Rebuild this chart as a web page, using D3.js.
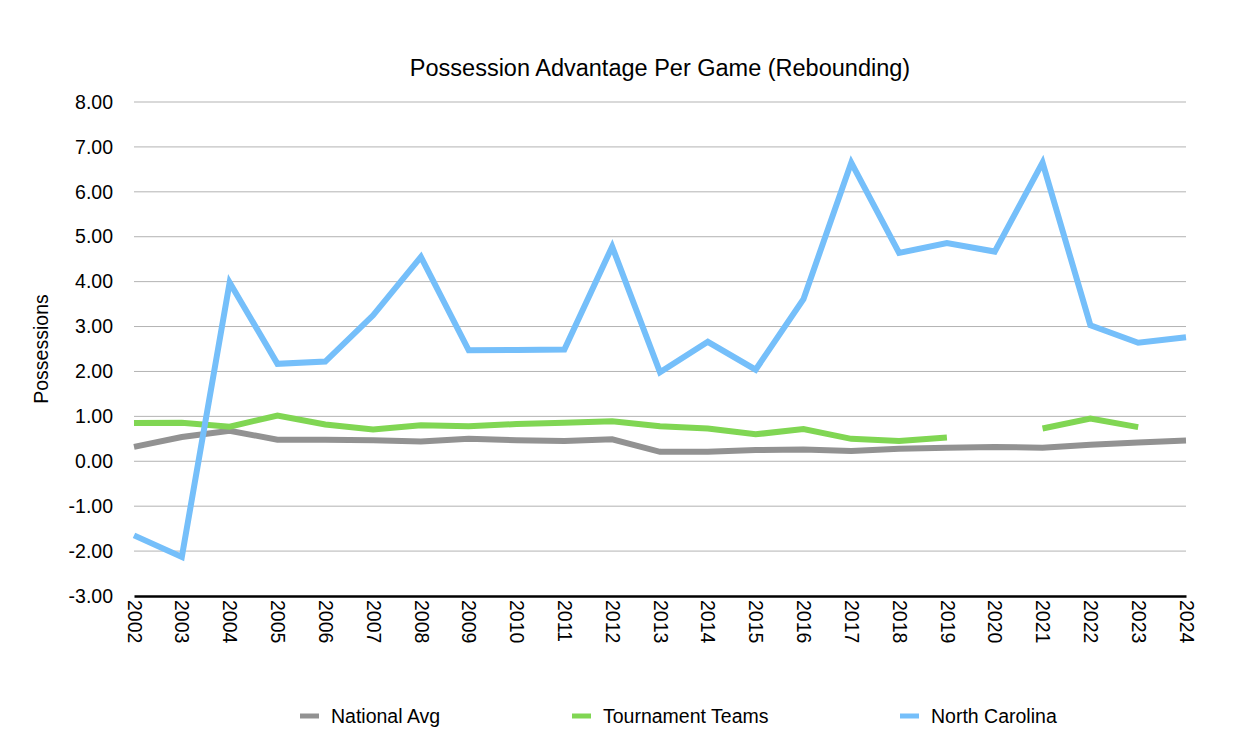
<!DOCTYPE html>
<html>
<head>
<meta charset="utf-8">
<script src="https://cdn.jsdelivr.net/npm/d3@7"></script>
<style>
  body { margin: 0; background: #fff; }
  svg { font-family: "Liberation Sans", Arial, Helvetica, sans-serif; }
</style>
</head>
<body>
<svg id="chart" width="1236" height="752"></svg>
<script>
const years = [2002, 2003, 2004, 2005, 2006, 2007, 2008, 2009, 2010, 2011, 2012,
    2013, 2014, 2015, 2016, 2017, 2018, 2019, 2020, 2021, 2022, 2023, 2024];

const nationalAvg = [0.32, 0.54, 0.68, 0.48, 0.48, 0.47, 0.44, 0.50, 0.47, 0.45, 0.49,
    0.21, 0.21, 0.25, 0.26, 0.23, 0.28, 0.30, 0.32, 0.30, 0.37, 0.42, 0.46];

const tournamentTeams = [0.85, 0.86, 0.77, 1.02, 0.82, 0.71, 0.80, 0.78, 0.83, 0.86, 0.89,
    0.78, 0.73, 0.60, 0.72, 0.50, 0.45, 0.53, null, 0.73, 0.95, 0.76, null];

const northCarolina = [-1.65, -2.13, 3.98, 2.17, 2.22, 3.25, 4.55, 2.47, 2.48, 2.49, 4.78,
    1.98, 2.66, 2.04, 3.61, 6.65, 4.64, 4.86, 4.67, 6.65, 3.03, 2.64, 2.76];

const yTicks = [-3, -2, -1, 0, 1, 2, 3, 4, 5, 6, 7, 8];

const series = [
    { name: "National Avg", values: nationalAvg, color: "#929292" },
    { name: "Tournament Teams", values: tournamentTeams, color: "#80d653" },
    { name: "North Carolina", values: northCarolina, color: "#75bffa" }
];

const margin = { top: 102, right: 50, bottom: 156, left: 134 };
const width = 1236 - margin.left - margin.right;
const height = 752 - margin.top - margin.bottom;

const svg = d3.select("#chart");
const g = svg.append("g").attr("transform", `translate(${margin.left},${margin.top})`);

const x = d3.scaleLinear().domain(d3.extent(years)).range([0, width]);
const y = d3.scaleLinear().domain([-3, 8]).range([height, 0]);

// hyphen minus like the original, not the unicode one d3 uses
const fmt = d => d.toFixed(2);

// gridlines
g.append("g")
    .selectAll("line")
    .data(yTicks.filter(d => d !== -3))
    .join("line")
    .attr("x1", 0)
    .attr("x2", width)
    .attr("y1", d => y(d))
    .attr("y2", d => y(d))
    .attr("stroke", "#b3b3b3")
    .attr("stroke-width", 1);

// y axis labels
const yAxis = d3.axisLeft(y).tickValues(yTicks).tickFormat(fmt).tickSize(0).tickPadding(21);
g.append("g").call(yAxis)
    .call(s => s.select(".domain").remove())
    .selectAll("text")
    .attr("font-size", 19.5)
    .attr("fill", "#000")
    .attr("font-family", "Liberation Sans, Arial, sans-serif");

// x axis
const xAxis = d3.axisBottom(x).tickValues(years).tickFormat(d3.format("d")).tickSize(0);
const xg = g.append("g").attr("transform", `translate(0,${height})`).call(xAxis);
xg.select(".domain").attr("stroke", "#000").attr("stroke-width", 2.5);
xg.selectAll("text")
    .attr("font-size", 19.5)
    .attr("fill", "#000")
    .attr("font-family", "Liberation Sans, Arial, sans-serif")
    .attr("transform", "rotate(90)")
    .attr("x", 4)
    .attr("y", 0)
    .attr("dy", "0.35em")
    .attr("text-anchor", "start");

// lines
const line = d3.line()
    .defined(d => d[1] !== null)
    .x(d => x(d[0]))
    .y(d => y(d[1]));

series.forEach(s => {
    g.append("path")
        .datum(years.map((yr, i) => [yr, s.values[i]]))
        .attr("fill", "none")
        .attr("stroke", s.color)
        .attr("stroke-width", 6)
        .attr("stroke-linejoin", "miter")
        .attr("stroke-linecap", "butt")
        .attr("d", line);
});

// title
svg.append("text")
    .attr("x", margin.left + width / 2)
    .attr("y", 76)
    .attr("text-anchor", "middle")
    .attr("font-size", 23.5)
    .text("Possession Advantage Per Game (Rebounding)");

// y axis title
svg.append("text")
    .attr("transform", `translate(48,${margin.top + height / 2}) rotate(-90)`)
    .attr("text-anchor", "middle")
    .attr("font-size", 19.5)
    .text("Possessions");

// legend
const legendX = [300, 572, 900];
const legend = svg.append("g").attr("transform", "translate(0,716)");
series.forEach((s, i) => {
    legend.append("line")
        .attr("x1", legendX[i])
        .attr("x2", legendX[i] + 19)
        .attr("y1", 0)
        .attr("y2", 0)
        .attr("stroke", s.color)
        .attr("stroke-width", 5);
    legend.append("text")
        .attr("x", legendX[i] + 31)
        .attr("y", 0)
        .attr("dy", "0.35em")
        .attr("font-size", 19.5)
        .text(s.name);
});
</script>
</body>
</html>
